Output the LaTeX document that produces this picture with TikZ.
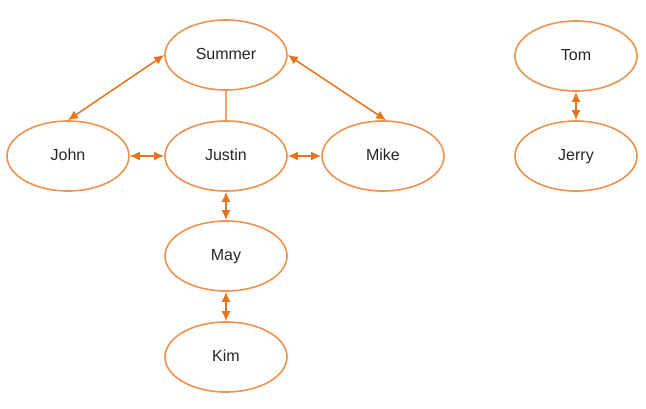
\documentclass[tikz,border=0pt]{standalone}
\usepackage{fontspec}
\setmainfont{Liberation Sans}
\usetikzlibrary{arrows.meta,shapes.geometric}
\definecolor{ell}{HTML}{F0924F}
\definecolor{arr}{HTML}{E8731A}
\begin{document}
\begin{tikzpicture}[x=1pt,y=-1pt,
  person/.style={ellipse,draw=ell,line width=1.6pt,minimum width=122pt,minimum height=70pt,inner sep=0pt,font=\fontsize{16}{18}\selectfont,text=black!85,text height=11.5pt,text depth=3.5pt},
  link/.style={draw=arr,line width=1.5pt,{Latex[length=10pt,width=9pt]}-{Latex[length=10pt,width=9pt]}},
  plain/.style={draw=ell!85,line width=1.3pt}]
\useasboundingbox (0,0) rectangle (646,408);
\node[person] (Summer) at (226,55) {Summer};
\node[person] (John) at (68,156) {John};
\node[person] (Justin) at (226,156) {Justin};
\node[person] (Mike) at (383,156) {Mike};
\node[person] (May) at (226,256) {May};
\node[person] (Kim) at (226,357) {Kim};
\node[person] (Tom) at (576,56) {Tom};
\node[person] (Jerry) at (576,156) {Jerry};
\draw[link] (Summer.west) -- (John.north);
\draw[link] (Summer.east) -- (Mike.85);
\draw[plain] (Summer.south) -- (Justin.north);
\draw[link] (John.east) -- (Justin.west);
\draw[link] (Justin.east) -- (Mike.west);
\draw[link] (Justin.south) -- (May.north);
\draw[link] (May.south) -- (Kim.north);
\draw[link] (Tom.south) -- (Jerry.north);
\end{tikzpicture}
\end{document}
